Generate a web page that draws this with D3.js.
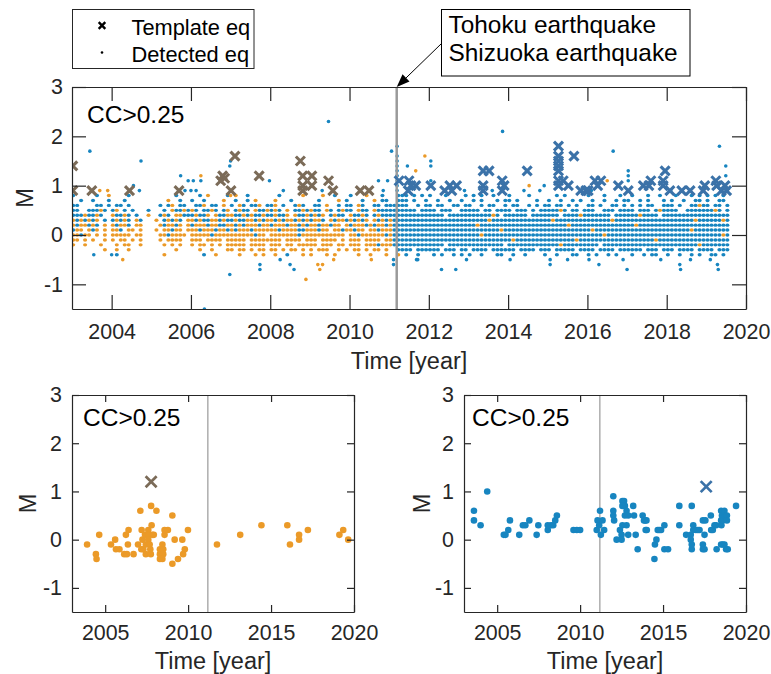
<!DOCTYPE html>
<html>
<head>
<meta charset="utf-8">
<script src="https://cdn.jsdelivr.net/npm/d3@7"></script>
<style>
  body { margin: 0; background: #fff; }
  svg { font-family: "Liberation Sans", Arial, Helvetica, sans-serif; }
</style>
</head>
<body>
<script>
// ---------- data ----------

// magnitude rows of the detected-eq band (M is catalogued in 0.1 steps)
const magLevels = [0.8, 0.7, 0.6, 0.5, 0.4, 0.3, 0.2, 0.1, 0, -0.1, -0.2, -0.3, -0.4];

// one string per year (2003 ... 2019), one character per 0.1 year
// "b" = detection of the blue family, "o" = orange family, "." = none
const detRows = [
  ["b.....b..o","....b.....","......b...","..b.o....b",".o..b.....","..b.....o.","...o..b...","b...o...b.","..bbb.b.b.","b...b....b",".b.b..b...","b....b....","..b.b.....","b...b...b.",".b...b..b.","..b...b.b.","b.b.b."],
  ["..b..b...b","...b......","....o..b..","b..b....o.",".b..b.o...",".o...b....","..b....o.b","...b..o.bb","..bbb.b..b","..b..b..b.",".b.b...b.b","b.b....b..","b..b..b.b.",".b..b..b.b","b..b.b...b",".b..b..bb.","b..bb."],
  ["bb....bb.b",".bb.b.....","..b.bo.bb.",".bbo.bb.o.","b.ob.bbo.b","bo.b..bob.",".bb.o..b.b","b.ob..bb.b","bbbbb..b.b","b.bb..bb.b","b..b.bb..b",".bb..b.b.b","b.bb.b.b..","bb.b..bb.b",".b.b.bb..b","bb.b..bbob","b.bb.b"],
  ["bb..bbbob.","bo.b.b...b","...b.obbob","ob.bbob.bo",".bobb.obbo","bob.o.bbob","obb.ob.bob","b.obb.obbb","bbbbbbb.bb","bb.bbb..bb","bbb.bb.bbb","b.bbb.b.bb","bbbob.bb.b","bb..bbb.bb","bb.bbb.bob","bbb..bbbbb","bbob.b"],
  ["bbbobbob..","obbob.b..o","..bob.oobb","bobbo.obbo","obbobobbob","bobbo.obbo","bobo.bobb.","obbob.bobb","bbbbbbbbbb","bbbb.bbbbb","bbbbbbob.b","bbbbb.bbbb","bbb.bbbbob","bbbbbb.bbb","bbbobbbb.b","bbbbbbbbbb","bbbbbb"],
  ["obobobo.b.","bobob.ob..",".o.bobob.o","obobboobob","bobboobobo","oboboobobo","boob.oboob","obobo.obob","obbbbbbbbb","bbbbbbbbbb","bbbbbobbbb","bbbbbbbbbb","bobbbbbbbb","bbbbbbobbb","bbbbbbbbbb","bbbbbbbobb","bbbbob"],
  ["oboobob.o.","oboob.oo..","..oboobo.o","boooboobbo","oboboooboo","boooboobob","oobooboo.o","boooboboob","obbbbbbbbb","bbbbbbbbbb","bbobbbbbbb","bbbbbbbbbb","bbbbbobbbb","bbbbbbbbbb","bbobbbbbbb","bbbbbbbbbb","bbbbbb"],
  ["boo.obo.o.","oob.oo.o..",".o.ooboo.o","ooboooboob","oboooboooo","ooboooobbo","ooboo.oobo","oboo.ooboo","obbbbbbbbb","bbbbbbbbbb","bbbbbbbbob","bbbbbbbbbb","bbbbbbbbbb","bobbbbbbbb","bbbbbbbbbb","bbbbbbobbb","bbbbbb"],
  ["ooboo.o.o.","ooooo.oo..","..ooboooo.","oooooboooo","ooooooboo.","oooooooboo","ooooooooo.","ooboooooob","obbbbbbbbb","bbbbbbbbbb","bbbobbbbbb","bbbbbbbbbb","bbbbbbbbbb","bbbbobbbbb","bbbbbbbbbb","bbbbbbbbbb","bbbbob"],
  ["oo.o.o..o.","o.oo.o.o..","..o.oooo..","ooo.oooo.o","oooo.ooooo","ooo.oooo.o","oo.oooo.o.","ooo.oooo.o","obbbbbbbbb","bbbbbbbbbb","bbbbbbbbbb","bobbbbbbbb","bbbbbbbobb","bbbbbbbbbb","bbbbbbbobb","bbbbbbbbbb","bbbbbb"],
  ["o..o...o..",".o.oo..o..","...o.o.o..","o.oo.o.o.o","oooo.oooo.","ooo.oo.ooo","oo.ooo.oo.","ooo.oooboo","obbbbbbbbb","bbbb.bbbbb","bbbbbbbbb.","bbbbbbbbbb","bbbobbbbbb","bbb.bbbbbb","bbbbbbbbbb","bbbbbbbbob","bbbbbb"],
  ["........o.",".o..o.....","......o...","..o..o...o","o.oo.o.oo.","oo.o.oo.o.","o.ooo..o.o",".oo.o.oo.o","..bbbb.bbb","bbb.bbb.bb",".bbbb.bbbb","bb.bbbb.bb","b.bbbbb.bb","bb.bbbb.bb","bbbb.bbb.b","bb.bbbb.bb","bb.bbb"],
  ["..........",".b........","...o......","...b..o...","..o...o.o.",".o..b...o.","o...o.o...","..o..o...o","..o.b..b..",".b.b..b.b.","b..b...bb.",".b..b....b","..b...bb..","b.b..b.b..",".b..b.bb..","b..b..b.b.",".bb.b."]
];

// isolated detections outside the band [year, M]
const blueExtra = [
  [2003.45,1.7],[2004.74,1.5],[2005.74,1.2],[2005.93,1.1],[2006.06,1.1],[2006.25,1.1],
  [2004.7,0.9],[2004.55,1.0],[2005.85,0.9],[2006.0,0.9],[2006.13,0.9],[2006.98,1.4],
  [2007.0,1.5],[2006.98,-0.8],[2003.55,-0.4],[2004.0,-0.4],[2006.34,-1.5],
  [2009.47,2.3],[2007.98,1.1],[2008.33,0.9],[2009.31,0.9],[2010.73,1.1],[2010.85,0.9],
  [2010.96,1.1],[2011.06,1.7],[2011.2,1.8],[2011.2,1.6],[2011.2,1.5],[2011.2,1.4],
  [2011.2,1.3],[2011.2,1.2],[2011.2,1.1],[2011.2,1.0],[2011.2,0.9],[2011.46,1.4],
  [2007.74,-0.6],[2007.74,-0.7],[2008.25,-0.5],[2008.5,-0.6],[2008.6,-0.7],
  [2011.11,-0.5],[2011.11,-0.6],[2011.69,-0.5],[2013.86,2.1],[2012.05,1.5],[2012.05,1.4],
  [2012.05,1.1],[2014.91,1.0],[2014.4,0.9],[2014.8,0.9],[2012.32,-0.7],[2012.68,-0.7],
  [2015.06,-0.6],[2015.06,-0.5],[2016.65,1.7],[2019.33,1.8],[2019.49,1.4],[2019.49,1.2],
  [2017.03,1.3],[2017.03,1.2],[2017.03,1.1],[2016.04,-0.5],[2016.29,-0.6],[2017.0,-0.7],
  [2018.35,-0.7],[2018.33,-0.6],[2019.28,-0.6],[2019.3,-0.7],[2011.72,-0.5],[2012.95,-0.5],
  [2014.05,-0.5],[2015.5,-0.5],[2016.9,-0.5],[2017.85,-0.5],[2018.6,-0.5],[2019.1,-0.5],
  [2012.9,0.9],[2013.6,0.9],[2016.1,0.9],[2018.1,0.9]
];
const orangeExtra = [
  [2006.25,1.2],[2003.7,0.9],[2003.9,0.9],[2004.28,-0.5],[2008.9,-0.9],[2009.2,-0.6],
  [2009.25,-0.7],[2009.32,-0.6],[2009.6,-0.5],[2010.55,-0.5],[2011.67,1.3],[2011.9,1.6],
  [2014.53,1.0],[2016.5,1.1],[2007.0,0.8]
];

// template earthquakes, top panel
const templBrown = [
  [2003.02,1.4],[2003.02,0.9],[2003.5,0.9],[2004.45,0.9],[2005.7,0.9],[2006.75,1.1],
  [2006.8,1.2],[2006.85,1.15],[2007.01,0.9],[2007.11,1.6],[2007.72,1.2],[2008.76,1.5],
  [2008.82,1.2],[2009.05,1.2],[2008.82,1.0],[2009.05,1.0],[2008.82,0.9],[2009.47,1.1],
  [2009.58,0.9],[2010.27,0.9],[2010.49,0.9]
];
const templBlue = [
  [2011.25,1.1],[2011.5,1.1],[2011.48,0.9],[2011.67,1.0],[2011.55,1.0],[2012.05,1.0],
  [2012.4,0.9],[2012.53,1.0],[2012.58,0.9],[2012.7,1.0],[2013.37,1.3],[2013.52,1.3],
  [2013.37,1.0],[2013.37,0.9],[2013.85,1.1],[2013.85,0.9],[2013.9,1.0],[2014.48,1.3],
  [2015.27,1.8],[2015.27,1.6],[2015.27,1.5],[2015.27,1.4],[2015.27,1.3],[2015.27,1.1],
  [2015.27,1.0],[2015.66,1.6],[2015.39,1.1],[2015.52,1.0],[2015.83,0.9],[2015.96,0.9],
  [2016.02,0.9],[2016.19,1.1],[2016.34,1.1],[2016.26,1.0],[2016.78,1.0],[2017.03,0.9],
  [2017.41,1.0],[2017.6,1.1],[2017.55,1.0],[2017.96,1.3],[2017.91,1.1],[2017.91,1.0],
  [2018.08,0.9],[2018.38,0.9],[2018.59,0.9],[2018.92,0.9],[2018.96,1.0],[2019.24,1.1],
  [2019.26,1.0],[2019.38,0.9],[2019.47,1.0],[2019.51,0.9]
];

// bottom-left panel: orange family
const leftDots = [
  [2003.91,-0.1],[2004.44,-0.3],[2004.48,-0.4],[2004.64,0.1],[2005.35,-0.1],[2005.6,0.0],
  [2005.65,-0.2],[2005.86,-0.2],[2006.15,-0.3],[2006.31,-0.3],[2006.71,-0.3],[2006.25,0.1],
  [2006.41,0.2],[2006.37,-0.1],[2006.98,-0.1],[2007.12,0.6],[2007.2,0.2],[2007.25,0.0],
  [2007.18,-0.2],[2007.3,-0.2],[2007.4,0.1],[2007.45,-0.1],[2007.45,-0.3],[2007.6,0.2],
  [2007.65,0.1],[2007.6,0.0],[2007.68,-0.1],[2007.72,-0.2],[2007.75,-0.3],[2007.77,0.7],
  [2007.8,0.3],[2007.85,0.1],[2007.93,0.1],[2008.09,0.6],[2008.3,-0.2],[2008.3,-0.3],
  [2008.45,-0.1],[2008.5,-0.2],[2008.5,-0.3],[2008.3,-0.4],[2008.45,-0.4],[2008.58,0.1],
  [2008.58,0.2],[2008.78,0.2],[2009.05,0.5],[2009.05,-0.5],[2009.19,0.0],[2009.39,-0.4],
  [2009.65,0.0],[2009.7,-0.3],[2009.8,-0.2],[2009.99,0.2],[2011.74,-0.1],[2013.14,0.1],
  [2014.42,0.3],[2015.98,0.3],[2016.14,-0.1],[2016.69,0.1],[2016.69,0.0],[2017.22,0.2],
  [2019.12,0.1],[2019.35,0.2],[2019.65,0.0]
];
const leftTemplate = [[2007.77, 1.2]];

// bottom-right panel: blue family
const rightDots = [
  [2003.6,0.6],[2003.6,0.4],[2004.0,0.3],[2004.4,1.0],[2005.4,0.1],[2005.5,0.1],
  [2005.67,0.2],[2005.77,0.4],[2006.33,0.1],[2006.55,0.3],[2006.7,0.3],[2006.94,0.4],
  [2007.38,0.1],[2007.48,0.3],[2008.05,0.2],[2008.25,0.3],[2008.05,0.3],[2008.38,0.3],
  [2008.5,0.4],[2008.6,0.5],[2009.6,0.2],[2009.8,0.2],[2010.0,0.2],[2011.0,0.2],
  [2011.05,0.4],[2011.2,0.6],[2011.15,0.3],[2011.25,0.1],[2011.35,0.4],[2011.45,0.2],
  [2012.0,0.9],[2012.0,0.6],[2012.0,0.5],[2012.05,0.4],[2012.2,0.0],[2012.4,0.2],
  [2012.5,0.1],[2012.55,0.8],[2012.65,0.8],[2012.7,0.7],[2012.55,0.7],[2012.55,0.3],
  [2012.5,0.0],[2012.7,0.5],[2012.8,0.6],[2012.9,0.5],[2012.8,0.3],[2012.9,0.1],
  [2013.2,0.7],[2013.25,0.5],[2013.35,0.1],[2013.47,-0.2],[2013.77,0.5],[2013.85,0.4],
  [2013.92,0.4],[2014.0,0.4],[2013.95,0.2],[2014.02,0.2],[2014.48,-0.4],[2014.51,-0.1],
  [2014.6,0.0],[2014.68,0.2],[2014.78,0.2],[2014.88,0.2],[2015.08,0.3],[2015.08,-0.2],
  [2015.3,-0.2],[2015.98,0.7],[2015.98,0.3],[2016.39,0.1],[2016.67,0.1],[2016.67,0.0],
  [2016.73,-0.2],[2016.73,-0.1],[2016.73,0.7],[2016.82,0.3],[2016.82,0.2],[2016.98,0.2],
  [2017.1,0.2],[2017.2,0.2],[2017.4,0.4],[2017.4,-0.1],[2017.4,-0.2],[2017.5,-0.2],
  [2017.5,0.1],[2017.55,0.4],[2017.88,0.5],[2017.9,0.2],[2018.0,0.2],[2018.1,0.3],
  [2018.2,0.3],[2018.23,-0.2],[2018.5,0.4],[2018.52,0.3],[2018.5,0.6],[2018.55,0.5],
  [2018.6,0.4],[2018.7,0.6],[2018.5,-0.1],[2018.6,-0.1],[2018.7,-0.1],[2018.75,0.5],
  [2018.85,0.5],[2018.8,-0.2],[2018.9,-0.2],[2018.85,0.4],[2019.4,0.7]
];
const rightTemplate = [[2017.6, 1.1]];

const topXTicks = [2004, 2006, 2008, 2010, 2012, 2014, 2016, 2018, 2020];
const bottomXTicks = [2005, 2010, 2015, 2020];
const yTicks = [-1, 0, 1, 2, 3];
const tohoku = 2011.19;

// ---------- drawing ----------
const width = 771;
const height = 674;
const axisColor = "#262626";
const blue = "#1785c0";
const orange = "#eb9a28";
const brownX = "#7b6b58";
const blueX = "#3b72a8";
const tickFont = 21.4;
const labelFont = 23.5;

const svg = d3.select("body")
    .append("svg")
    .attr("width", width)
    .attr("height", height);

function xPath(cx, cy, s) {
    return `M${cx - s},${cy - s}L${cx + s},${cy + s}M${cx - s},${cy + s}L${cx + s},${cy - s}`;
}

// one MATLAB-style axes box
function makePanel(name, box, xTicks, tickLen, padX, padY, lineW) {
    const x = d3.scaleLinear().domain([2003, 2020]).range([box.x0, box.x1]);
    const y = d3.scaleLinear().domain([-1.5, 3]).range([box.y1, box.y0]);

    svg.append("clipPath").attr("id", "clip-" + name)
        .append("rect")
        .attr("x", box.x0).attr("y", box.y0)
        .attr("width", box.x1 - box.x0).attr("height", box.y1 - box.y0);

    const under = svg.append("g").attr("clip-path", `url(#clip-${name})`);
    const marks = svg.append("g").attr("clip-path", `url(#clip-${name})`);
    const over = svg.append("g").attr("clip-path", `url(#clip-${name})`);

    const fmt = (d) => String(d);
    const style = (g) => {
        g.attr("color", axisColor).attr("font-size", tickFont).attr("font-family", null);
        g.selectAll("path, line").attr("stroke-width", 1.2);
        g.selectAll("text").attr("fill", axisColor);
    };

    svg.append("g").attr("transform", `translate(0,${box.y1})`)
        .call(d3.axisBottom(x).tickValues(xTicks).tickSize(-tickLen).tickSizeOuter(0)
            .tickPadding(padX).tickFormat(fmt))
        .call(style);
    svg.append("g").attr("transform", `translate(0,${box.y0})`)
        .call(d3.axisTop(x).tickValues(xTicks).tickSize(-tickLen).tickSizeOuter(0).tickFormat(""))
        .call(style);
    svg.append("g").attr("transform", `translate(${box.x0},0)`)
        .call(d3.axisLeft(y).tickValues(yTicks).tickSize(-tickLen).tickSizeOuter(0)
            .tickPadding(padY).tickFormat(fmt))
        .call(style);
    svg.append("g").attr("transform", `translate(${box.x1},0)`)
        .call(d3.axisRight(y).tickValues(yTicks).tickSize(-tickLen).tickSizeOuter(0).tickFormat(""))
        .call(style);

    return { x, y, box, under, marks, over, lineW };
}

function tohokuLine(p, layer) {
    layer.append("line")
        .attr("x1", p.x(tohoku)).attr("x2", p.x(tohoku))
        .attr("y1", p.box.y0).attr("y2", p.box.y1)
        .attr("stroke", "#9a9a9a")
        .attr("stroke-width", p.lineW);
}

// small marker dots; the dense band reads as a run of touching dots
function dots(p, data, colour, rx, ry) {
    p.marks.selectAll(null)
        .data(data)
        .join("ellipse")
        .attr("cx", (d) => p.x(d[0]))
        .attr("cy", (d) => p.y(d[1]))
        .attr("rx", rx)
        .attr("ry", ry)
        .attr("fill", colour);
}

function crosses(p, data, colour, s, w) {
    p.over.selectAll(null)
        .data(data)
        .join("path")
        .attr("d", (d) => xPath(p.x(d[0]), p.y(d[1]), s))
        .attr("stroke", colour)
        .attr("stroke-width", w)
        .attr("fill", "none");
}

function labels(p, cx, xLabY, yLabX, ccX, ccY) {
    svg.append("text")
        .attr("x", cx).attr("y", xLabY)
        .attr("text-anchor", "middle")
        .attr("font-size", labelFont).attr("fill", axisColor)
        .text("Time [year]");
    svg.append("text")
        .attr("transform", `translate(${yLabX},${(p.box.y0 + p.box.y1) / 2}) rotate(-90)`)
        .attr("text-anchor", "middle")
        .attr("font-size", labelFont).attr("fill", axisColor)
        .text("M");
    svg.append("text")
        .attr("x", ccX).attr("y", ccY)
        .attr("font-size", 24.5).attr("fill", "#000")
        .text("CC>0.25");
}

// decode the occupancy strings into [year, M] points
const bluePts = [];
const orangePts = [];
detRows.forEach((chunks, r) => {
    chunks.forEach((s, k) => {
        for (let j = 0; j < s.length; j++) {
            const t = 2003 + k + j * 0.1 + 0.03;
            if (s[j] === "b") bluePts.push([t, magLevels[r]]);
            if (s[j] === "o") orangePts.push([t, magLevels[r]]);
        }
    });
});

// top panel
const topPanel = makePanel("top", { x0: 72, x1: 746, y0: 87, y1: 309 }, topXTicks, 14, 15, 9, 2.5);
dots(topPanel, bluePts, blue, 2.05, 1.7);
dots(topPanel, blueExtra, blue, 1.8, 1.8);
dots(topPanel, orangePts, orange, 2.05, 1.7);
dots(topPanel, orangeExtra, orange, 1.8, 1.8);
tohokuLine(topPanel, topPanel.over);
crosses(topPanel, templBrown, brownX, 4.5, 3.1);
crosses(topPanel, templBlue, blueX, 4.5, 3.1);
labels(topPanel, 409, 368.5, 33, 87, 123);

// bottom left
const leftPanel = makePanel("bl", { x0: 72, x1: 354, y0: 395, y1: 612 }, bottomXTicks, 7, 13, 10, 1.2);
tohokuLine(leftPanel, leftPanel.under);
dots(leftPanel, leftDots, orange, 3.3, 3.3);
crosses(leftPanel, leftTemplate, brownX, 5.5, 2.7);
labels(leftPanel, 213, 668.5, 36, 83, 426);

// bottom right
const rightPanel = makePanel("br", { x0: 464, x1: 746, y0: 395, y1: 612 }, bottomXTicks, 7, 13, 10, 1.2);
tohokuLine(rightPanel, rightPanel.under);
dots(rightPanel, rightDots, blue, 3.3, 3.3);
crosses(rightPanel, rightTemplate, blueX, 5.5, 2.7);
labels(rightPanel, 605, 668.5, 430, 472, 426);

// legend
const leg = svg.append("g");
leg.append("rect")
    .attr("x", 72.5).attr("y", 9.5).attr("width", 181.5).attr("height", 59)
    .attr("fill", "#fff").attr("stroke", axisColor).attr("stroke-width", 1);
leg.append("path").attr("d", xPath(102, 25.5, 3.3))
    .attr("stroke", "#000").attr("stroke-width", 2.4);
leg.append("circle").attr("cx", 102).attr("cy", 52.5).attr("r", 1.3).attr("fill", "#000");
leg.append("text").attr("x", 131.5).attr("y", 34.5).attr("font-size", 21.8).text("Template eq");
leg.append("text").attr("x", 131.5).attr("y", 61.5).attr("font-size", 21.8).text("Detected eq");

// annotation with arrow to the Tohoku line
const ann = svg.append("g");
ann.append("rect")
    .attr("x", 441.5).attr("y", 9.5).attr("width", 248.5).attr("height", 66.5)
    .attr("fill", "#fff").attr("stroke", "#000").attr("stroke-width", 1);
ann.append("text").attr("x", 448.5).attr("y", 33).attr("font-size", 24.4).text("Tohoku earthquake");
ann.append("text").attr("x", 448.5).attr("y", 61).attr("font-size", 24.4).text("Shizuoka earthquake");

const tipX = topPanel.x(tohoku);
const tipY = topPanel.box.y0;
const sx = 441.5, sy = 43.5;
const len = Math.hypot(tipX - sx, tipY - sy);
const ux = (tipX - sx) / len, uy = (tipY - sy) / len;
const headL = 13, headW = 5;
const bx = tipX - ux * headL, by = tipY - uy * headL;
ann.append("line")
    .attr("x1", sx).attr("y1", sy).attr("x2", bx).attr("y2", by)
    .attr("stroke", "#000").attr("stroke-width", 1);
ann.append("path")
    .attr("d", `M${tipX},${tipY}L${bx - uy * headW},${by + ux * headW}L${bx + uy * headW},${by - ux * headW}Z`)
    .attr("fill", "#000");
</script>
</body>
</html>
